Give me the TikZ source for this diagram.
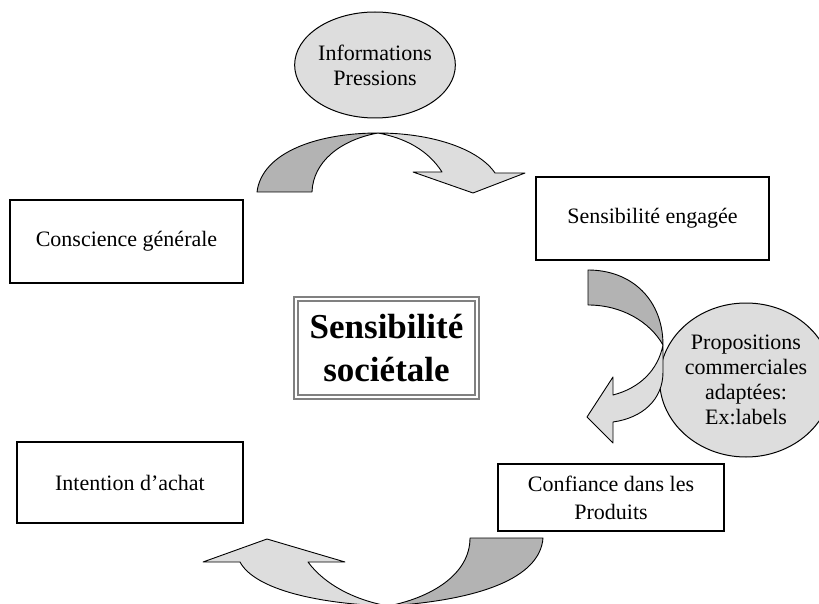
\documentclass[tikz,border=0pt]{standalone}
\usepackage{fontspec}
\setmainfont{Liberation Serif}
\usetikzlibrary{shapes.geometric}
\definecolor{lightband}{HTML}{DDDDDD}
\definecolor{darkband}{HTML}{B3B3B3}
\tikzstyle{etat} = [rectangle, draw=black, line width=1.1pt, fill=white, text centered, align=center, inner sep=0pt, font=\fontsize{22}{28}\selectfont]
\tikzstyle{bulle} = [ellipse, draw=black, line width=1pt, fill=lightband, text centered, align=center, inner sep=0pt, font=\fontsize{22}{25}\selectfont]
\tikzstyle{titre} = [rectangle, draw=gray, double=white, double distance=1.5pt, line width=2pt, fill=white, text centered, align=center, inner sep=0pt, font=\fontsize{35}{43}\selectfont\bfseries]
\tikzstyle{clair} = [draw=black, line width=0.9pt, fill=lightband, line join=round]
\tikzstyle{fonce} = [draw=black, line width=0.9pt, fill=darkband, line join=round]

\begin{document}
\begin{tikzpicture}[x=1pt, y=-1pt]
\useasboundingbox (0,0) rectangle (819,604);
% Drawing nodes
\node (info) [bulle, minimum width=150pt, minimum height=106pt] at (375,65) {Informations\\Pressions};
\node (consc) [etat, minimum width=233pt, minimum height=83pt] at (126.5,241.5) {Conscience générale};
\node (engag) [etat, minimum width=233pt, minimum height=83pt] at (652.5,218.5) {Sensibilité engagée};
\node (societ) [titre, minimum width=181pt, minimum height=98pt] at (386.5,348) {Sensibilité\\sociétale};
\node (propo) [bulle, minimum width=150pt, minimum height=154pt] at (746,380) {Propositions\\commerciales\\adaptées:\\Ex:labels};
\node (confi) [etat, minimum width=226pt, minimum height=67pt] at (611,497.5) {Confiance dans les\\Produits};
\node (inten) [etat, minimum width=226pt, minimum height=81pt] at (130,482.5) {Intention d’achat};

% Drawing arrows
% top arrow
\draw [fonce] (257,192) .. controls (262,152) and (318,133) .. (378,133)
  .. controls (340,140) and (313,162) .. (312,192) -- cycle;
\draw [clair] (378,133) .. controls (430,133) and (478,148) .. (495,173)
  -- (525,173) -- (473,193) -- (413,172) -- (442,172)
  .. controls (428,150) and (405,138) .. (378,133) -- cycle;
% right arrow
\draw [fonce] (588,270) .. controls (632,270) and (663,300) .. (663,345)
  .. controls (650,322) and (622,305) .. (588,305) -- cycle;
\draw [clair] (663,345) -- (663,372) .. controls (663,400) and (642,418) .. (613,422)
  -- (613,443) -- (587,417) -- (613,377) -- (613,395)
  .. controls (640,388) and (658,370) .. (663,345) -- cycle;
% bottom arrow
\draw [fonce] (470,538) -- (543,538) .. controls (540,578) and (480,600) .. (388,606)
  .. controls (430,598) and (470,575) .. (470,538) -- cycle;
\draw [clair] (388,606) .. controls (320,604) and (255,590) .. (240,562)
  -- (203,562) -- (267,539) -- (345,562) -- (308,562)
  .. controls (325,585) and (355,600) .. (388,606) -- cycle;
\end{tikzpicture}
\end{document}
